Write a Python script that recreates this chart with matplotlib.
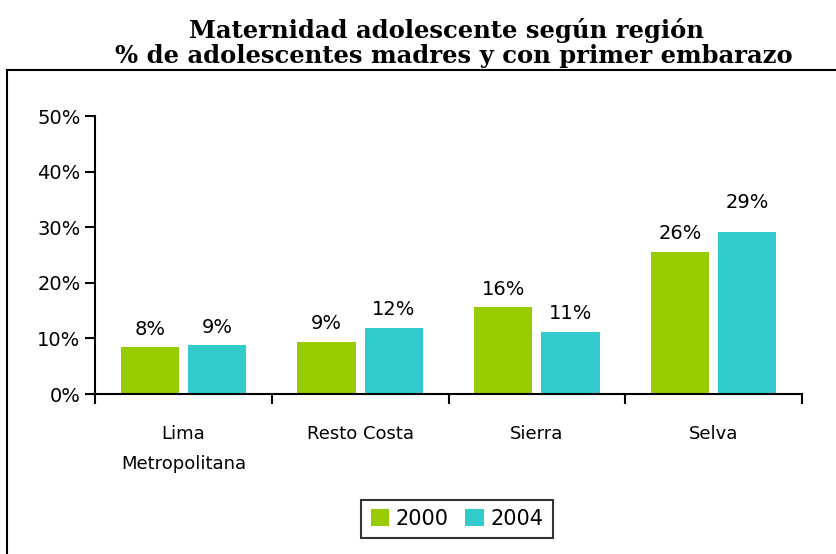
import matplotlib.pyplot as plt
import numpy as np
from matplotlib.patches import Rectangle

regions = ['Lima\nMetropolitana', 'Resto Costa', 'Sierra', 'Selva']
years = ['2000', '2004']
vals_2000 = [8.4, 9.4, 15.6, 25.6]
vals_2004 = [8.8, 11.9, 11.2, 29.2]
colors = ['#99cc00', '#33cccc']

plt.rcParams['font.family'] = 'DejaVu Sans'

fig = plt.figure(figsize=(8.36, 5.54), dpi=100)
W, H = 836, 554

# outer frame of the chart area
fig.patches.append(Rectangle((7 / W, -0.1), 1.1, (H - 70) / H + 0.1,
                             transform=fig.transFigure, fill=False,
                             edgecolor='black', linewidth=1.5))

ax = fig.add_axes([95 / W, (H - 394) / H, (802 - 95) / W, (394 - 116) / H])

x = np.arange(len(regions))
w = 0.33
off = 0.19
b1 = ax.bar(x - off, vals_2000, w, color=colors[0], label=years[0])
b2 = ax.bar(x + off, vals_2004, w, color=colors[1], label=years[1])

for bars in (b1, b2):
    for b in bars:
        h = b.get_height()
        pad = 1.5
        if bars is b2 and b is bars[-1]:
            pad = 3.5  # excel nudged this one up
        ax.text(b.get_x() + b.get_width() / 2, h + pad,
                '%.0f%%' % h, ha='center', va='bottom', fontsize=14)

ax.set_xlim(-0.5, len(regions) - 0.5)
ax.set_ylim(0, 50)
ax.set_yticks(range(0, 51, 10))
ax.set_yticklabels(['%d%%' % v for v in range(0, 51, 10)], fontsize=14)

ax.set_xticks(np.arange(-0.5, len(regions), 1.0))
ax.set_xticklabels([])
ax.set_xticks(x, minor=True)
ax.set_xticklabels(regions, minor=True, fontsize=13, linespacing=1.9)
ax.tick_params(axis='x', which='minor', length=0, pad=22)
ax.tick_params(axis='both', which='major', length=7, width=1.5, direction='out')

for s in ['top', 'right']:
    ax.spines[s].set_visible(False)
for s in ['left', 'bottom']:
    ax.spines[s].set_linewidth(1.5)

leg = fig.legend(loc='center', bbox_to_anchor=(457 / W, (H - 519) / H), ncol=2,
                 fontsize=15, frameon=True, fancybox=False, edgecolor='black',
                 handlelength=0.9, handleheight=0.9, handletextpad=0.3,
                 columnspacing=0.8, borderpad=0.45)
leg.get_frame().set_linewidth(1.5)

fig.text(446 / W, (H - 38) / H, 'Maternidad adolescente según región',
         ha='center', va='baseline', fontsize=17.5, fontweight='bold', family='DejaVu Serif')
fig.text(454 / W, (H - 63) / H, '% de adolescentes madres y con primer embarazo',
         ha='center', va='baseline', fontsize=17.5, fontweight='bold', family='DejaVu Serif')

fig.savefig('out.png', dpi=100)
